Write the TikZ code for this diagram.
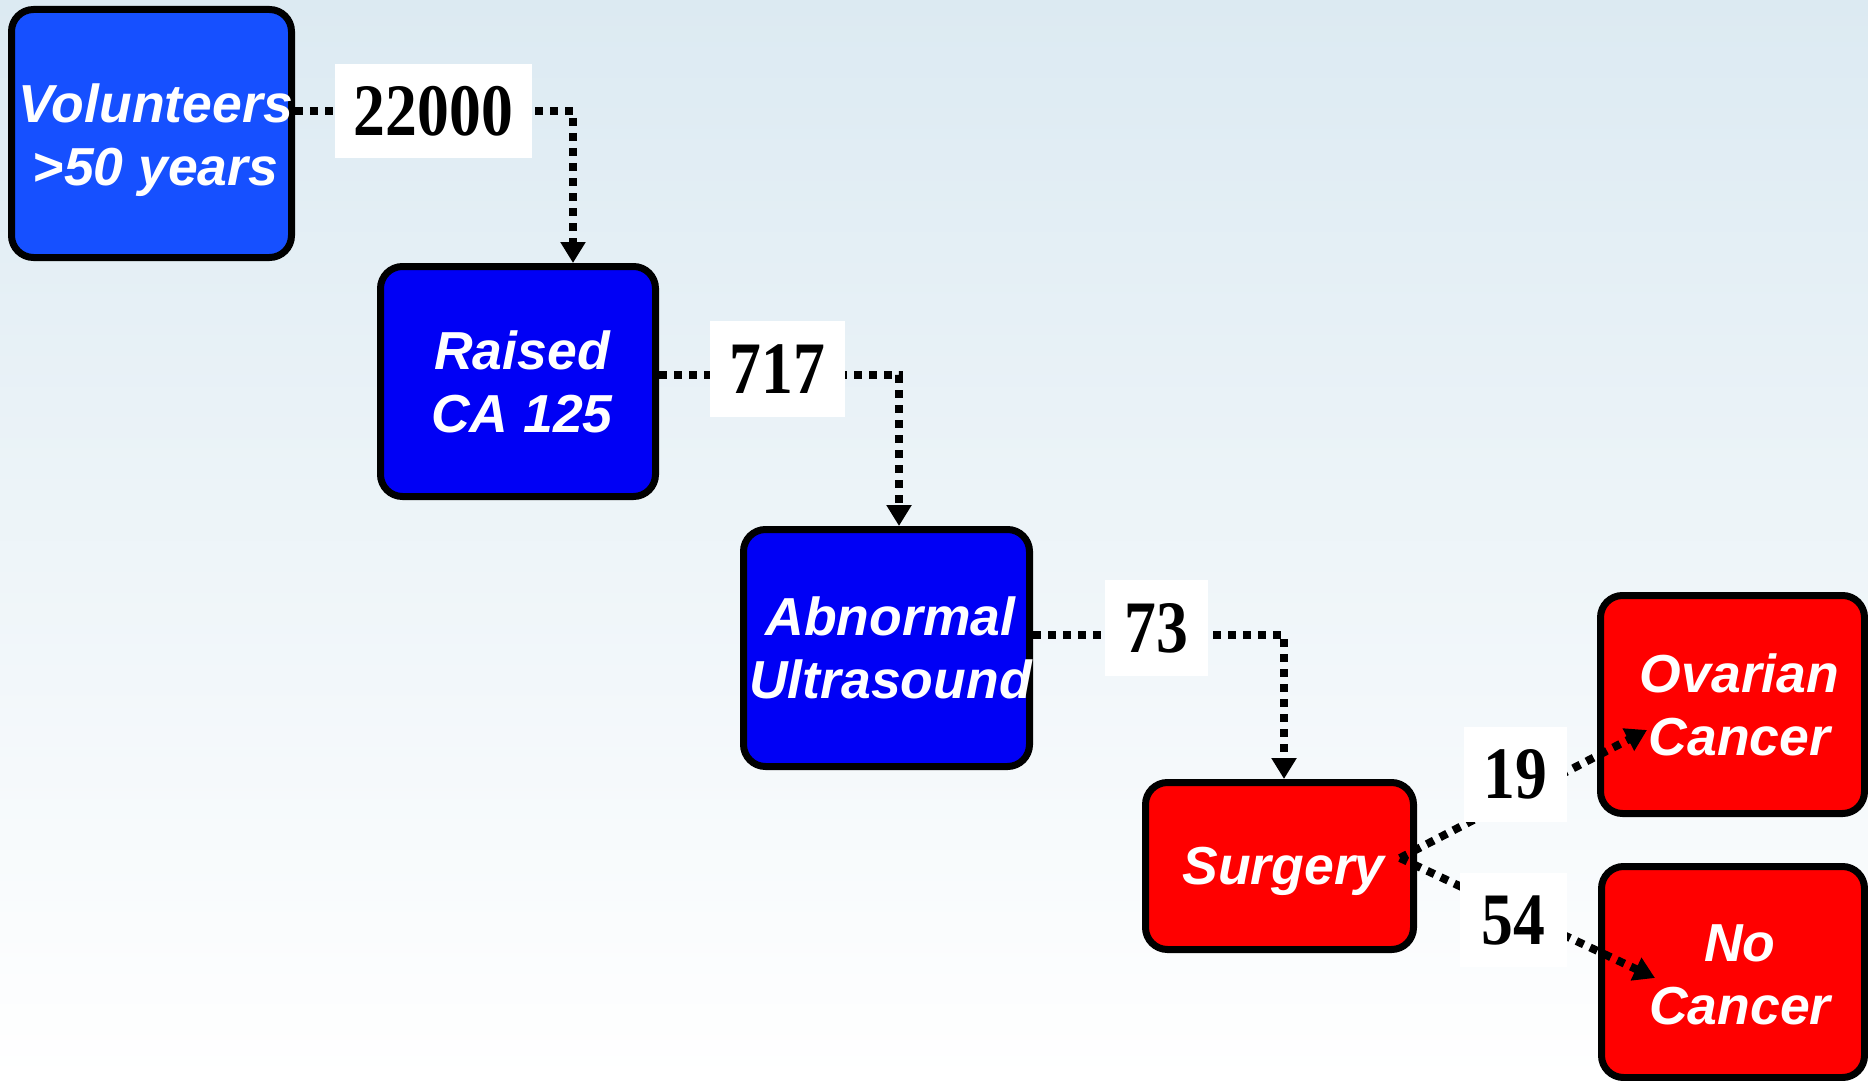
\documentclass[tikz,border=0pt]{standalone}
\usepackage{fontspec}
\setmainfont{Liberation Sans}
\newfontfamily\numfont{Liberation Serif}[FakeStretch=0.86]
\usetikzlibrary{arrows.meta,calc}
\definecolor{bgtop}{RGB}{220,234,242}
\definecolor{lblue}{RGB}{22,80,255}
\definecolor{dblue}{RGB}{0,0,245}
\definecolor{bred}{RGB}{255,0,0}
\tikzset{
  box/.style={draw=black, line width=3.5pt, rounded corners=11pt, inner sep=0pt},
  boxtext/.style={inner sep=0pt, align=center, text=white, xshift=2pt,
    font=\fontsize{26.75}{31.5}\selectfont\bfseries\itshape},
  conn/.style={draw=black, line width=4pt, dash pattern=on 4pt off 3.5pt,
    -{Triangle[length=10.5pt,width=12pt]}},
  lbl/.style={fill=white, inner sep=0pt, font=\numfont\fontsize{37}{42}\selectfont\bfseries},
}
\begin{document}
\begin{tikzpicture}[x=0.5pt,y=-0.5pt]
\useasboundingbox (0,0) rectangle (1868,1081);
\shade[top color=bgtop, bottom color=white] (0,0) rectangle (1868,1081);

% boxes
\node[box, fill=lblue, minimum width=140pt, minimum height=124pt,
  label={[boxtext,yshift=-3.5pt]center:Volunteers\\>50 years}] (vol) at (151.5,133.5) {};
\node[box, fill=dblue, minimum width=137.5pt, minimum height=115pt,
  label={[boxtext]center:Raised\\CA 125}] (raised) at (518,381.5) {};
\node[box, fill=dblue, minimum width=143pt, minimum height=118.5pt,
  label={[boxtext]center:Abnormal\\Ultrasound}] (abn) at (886.5,648) {};
\node[box, fill=bred, minimum width=134pt, minimum height=83.5pt,
  label={[boxtext,yshift=-2.5pt]center:Surgery}] (surg) at (1279.5,866) {};
\node[box, fill=bred, minimum width=132pt, minimum height=109pt,
  label={[boxtext,xshift=1.5pt]center:Ovarian\\Cancer}] (ov) at (1732.5,704.5) {};
\node[box, fill=bred, minimum width=131.5pt, minimum height=105.5pt,
  label={[boxtext,xshift=1.5pt,yshift=-1.5pt]center:No\\Cancer}] (nc) at (1733,972) {};

% connector bends and free ends
\coordinate (c1) at (573,111);
\coordinate (c2) at (899,375);
\coordinate (c3) at (1284,635);
\coordinate (s0) at (1400,858);
\coordinate (ovtip) at (1647,730);
\coordinate (nctip) at (1655,978);

\draw[conn] (vol.east |- c1) -- (c1) -- (c1 |- raised.north);
\draw[conn] (raised.east |- c2) -- (c2) -- (c2 |- abn.north);
\draw[conn] (abn.east |- c3) -- (c3) -- (c3 |- surg.north);
\draw[conn] (s0) -- (ovtip);
\draw[conn] (s0) -- (nctip);

% labels
\node[lbl, minimum width=98.5pt, minimum height=47pt] (l1) at (433.5,111) {22000};
\node[lbl, minimum width=67.5pt, minimum height=48pt] (l2) at (777.5,369) {717};
\node[lbl, minimum width=51.5pt, minimum height=48pt] (l3) at (1156.5,628) {73};
\node[lbl, minimum width=51.5pt, minimum height=47.5pt] (l4) at (1515.5,774.5) {19};
\node[lbl, minimum width=53.5pt, minimum height=47pt] (l5) at (1513.5,920) {54};
\end{tikzpicture}
\end{document}
